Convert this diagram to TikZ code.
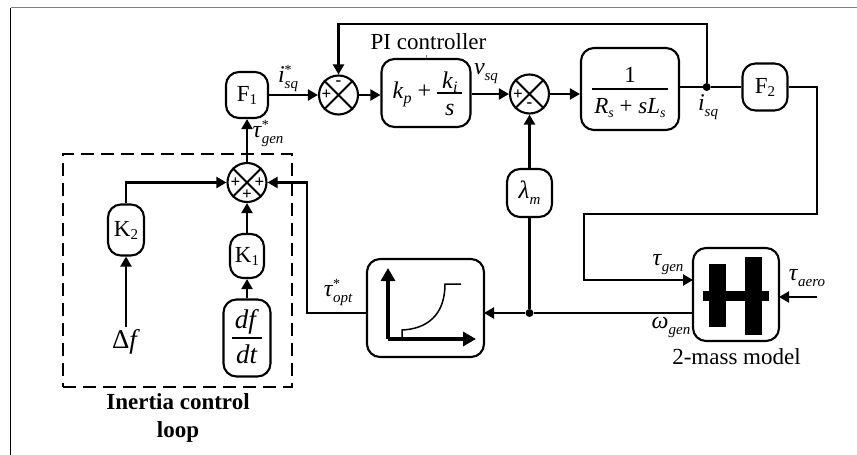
\documentclass[tikz,border=0pt]{standalone}
\usepackage{fontspec}
\setmainfont{Liberation Serif}
\usepackage{tikz}
\usetikzlibrary{arrows.meta}
\newcommand{\fs}[1]{\fontsize{#1}{#1}\selectfont}
% symbol with optional star and a subscript
\newcommand{\sym}[3]{\textit{#1}\rlap{\raisebox{8pt}{\fs{14}#2}}\raisebox{-6pt}{\fs{15}\itshape #3}}
% fraction whose rule sits on the node centre
\newcommand{\fracpart}[5]{\makebox[#3]{\makebox[0pt]{\raisebox{#4}[0pt][0pt]{#1}}\makebox[0pt]{\raisebox{-0.5pt}[0pt][0pt]{\rule{#3}{1.3pt}}}\makebox[0pt]{\raisebox{-#5}[0pt][0pt]{#2}}}}
\tikzset
{
    block/.style    = {draw=black, line width=2.1pt, rounded corners=13pt, align=center, inner sep=0pt, font=\fs{23}},
    junction/.style = {circle, draw=black, line width=2.1pt, minimum size=39pt, inner sep=0pt},
    signmark/.style = {inner sep=0pt, font=\fs{17}\bfseries},
    wire/.style     = {line width=2.1pt, -{Triangle[length=10pt,width=11pt]}},
    line/.style     = {line width=2.1pt},
    axis/.style     = {line width=4.5pt, -{Triangle[length=13pt,width=14pt]}},
    tag/.style      = {inner sep=0pt, font=\fs{24}},
    joint/.style    = {circle, fill=black, inner sep=0pt, minimum size=8pt}
}
\newcommand{\crossing}[1]{\draw[line] (#1.45) -- (#1.225) (#1.135) -- (#1.-45);}
\begin{document}
\begin{tikzpicture}[x=1pt, y=-1pt]
    \useasboundingbox (0,0) rectangle (857,455);
    \coordinate (framea) at (10.5,455);
    \coordinate (frameb) at (10.5,7.5);
    \coordinate (framec) at (857,7.5);
    \draw[line width=1pt] (framea) -- (frameb);
    \draw[line width=1.3pt, gray] (frameb) -- (framec);

    % inertia loop
    \node [draw=black, line width=2.2pt, dash pattern=on 13pt off 7pt, minimum width=229pt, minimum height=233pt] (inertia) at (177.5,270.5) {};
    \node [tag, font=\fs{23}\bfseries, align=center] (inertiatxt) at (178,418) {Inertia control\\[5pt]loop};

    % blocks
    \node [block, minimum width=42pt, minimum height=46pt] (f1) at (247,95) {F\raisebox{-3pt}{\fs{15}1}};
    \node [junction] (sum1) at (338.5,95) {};
    \node [block, minimum width=89pt, minimum height=68pt] (pi) at (426,93) {\fs{24}\hspace*{3pt}\raisebox{-5pt}[0pt][0pt]{\textit{k}\raisebox{-5pt}{\fs{16}\itshape p} + }\fracpart{\textit{k}\raisebox{-4pt}{\fs{16}\itshape i}}{\textit{s}}{25pt}{5pt}{22pt}};
    \node [tag, font=\fs{23}] (pitxt) at (428.5,42) {PI controller};
    \coordinate (pitick) at (426,55);
    \draw[line width=0.5pt, gray] (pitick) -- (pi.north -| pitick);
    \node [junction] (sum2) at (529.5,94) {};
    \node [block, minimum width=98pt, minimum height=82pt] (plant) at (630,89) {\fracpart{1}{\textit{R}\raisebox{-4pt}{\fs{14}\itshape s} + \textit{sL}\raisebox{-4pt}{\fs{14}\itshape s}}{76pt}{7pt}{24pt}};
    \node [joint] (tap) at (706.7,87) {};
    \node [block, minimum width=45pt, minimum height=47pt] (f2) at (765,87) {F\raisebox{-3pt}{\fs{15}2}};
    \node [block, minimum width=45pt, minimum height=48pt] (lam) at (529.5,193) {\fs{25}\sym{λ}{}{m}};
    \node [junction] (sum3) at (247,182.5) {};
    \node [block, minimum width=36pt, minimum height=51pt] (k2) at (126,230) {K\raisebox{-3pt}{\fs{15}2}};
    \node [block, minimum width=34pt, minimum height=44pt] (k1) at (247,256) {K\raisebox{-3pt}{\fs{15}1}};
    \node [block, minimum width=47pt, minimum height=77pt] (dfdt) at (247,338) {\fs{27}\fracpart{\textit{df}}{\textit{dt}}{30pt}{10pt}{25pt}};
    \node [tag, font=\fs{27}] (df) at (126,342) {Δ\textit{f}};
    \node [block, minimum width=117pt, minimum height=98pt] (curve) at (425.5,308) {};
    \node [block, minimum width=86pt, minimum height=93pt] (mass) at (736,294.5) {};
    \node [tag, font=\fs{23}] (masstxt) at (736.5,357) {2-mass model};

    \crossing{sum1}
    \crossing{sum2}
    \crossing{sum3}
    \node [signmark] (sum1p) at (326.5,95) {+};
    \node [signmark] (sum1m) at (338.5,83) {-};
    \node [signmark] (sum2p) at (518,94.5) {+};
    \node [signmark] (sum2m) at (529.5,105) {-};
    \node [signmark] (sum3a) at (235.5,182.5) {+};
    \node [signmark] (sum3b) at (259.5,182.5) {+};
    \node [signmark] (sum3c) at (247,195) {+};

    % free ends
    \coordinate (fbtop) at (706.7,24);
    \coordinate (fbleft) at (338.5,24);
    \coordinate (f2right) at (817,87);
    \coordinate (f2low) at (817,214);
    \coordinate (f2left) at (584,214);
    \coordinate (f2in) at (584,280);
    \coordinate (massin) at (693,280);
    \coordinate (massout) at (693,313);
    \coordinate (aero) at (817,297);
    \coordinate (massaero) at (779,297);
    \coordinate (curvein) at (484,313);
    \coordinate (curveout) at (367,313);
    \coordinate (optleft) at (307,313);
    \coordinate (optup) at (307,182.5);
    \coordinate (k2up) at (126,182.5);
    \coordinate (dfup) at (126,327);

    % connectors
    \draw[wire] (f1) -- (sum1);
    \draw[wire] (sum1) -- (sum1 -| pi.west);
    \draw[wire] (sum2 -| pi.east) -- (sum2);
    \draw[wire] (sum2) -- (sum2 -| plant.west);
    \draw[line] (tap -| plant.east) -- (tap) -- (f2);
    \draw[wire] (tap) -- (fbtop) -- (fbleft) -- (sum1);
    \draw[wire] (f2) -- (f2right) -- (f2low) -- (f2left) -- (f2in) -- (massin);
    \draw[wire] (aero) -- (massaero);
    \node [joint] (tap2) at (529.5,313) {};
    \draw[line] (massout) -- (tap2);
    \draw[wire] (tap2) -- (curvein);
    \draw[wire] (lam) -- (sum2);
    \draw[line] (tap2) -- (lam);
    \draw[wire] (curveout) -- (optleft) -- (optup) -- (sum3);
    \draw[wire] (k2) -- (k2up) -- (sum3);
    \draw[wire] (k1) -- (sum3);
    \draw[wire] (dfdt) -- (k1);
    \draw[wire] (dfup) -- (k2);
    \draw[wire] (sum3) -- (f1);

    % curve box
    \coordinate (axo) at (388,339);
    \coordinate (axy) at (388,268);
    \coordinate (axx) at (476,339);
    \draw[axis] (axo) -- (axy);
    \draw[axis] (axo) -- (axx);
    \draw[line width=1.5pt] (402,339) -- (402,330) .. controls (426,329) and (445,316) .. (445,284) -- (461,284);

    % two-mass symbol
    \fill (709,264) rectangle (726,327);
    \fill (745,257) rectangle (762,335);
    \fill (703,291) rectangle (769,301);

    % labels
    \node [tag] (isqa) at (288,79) {\sym{i}{*}{sq}};
    \node [tag] (taugen) at (268,134) {\sym{τ}{*}{gen}};
    \node [tag] (vsq) at (486,74) {\sym{v}{}{sq}};
    \node [tag] (isqb) at (708,107) {\sym{i}{}{sq}};
    \node [tag] (tauopt) at (338,293) {\sym{τ}{*}{opt}};
    \node [tag] (tgen) at (668,265) {\sym{τ}{}{gen}};
    \node [tag] (taero) at (807,278) {\sym{τ}{}{aero}};
    \node [tag] (wgen) at (671,327) {\sym{ω}{}{gen}};
\end{tikzpicture}
\end{document}
